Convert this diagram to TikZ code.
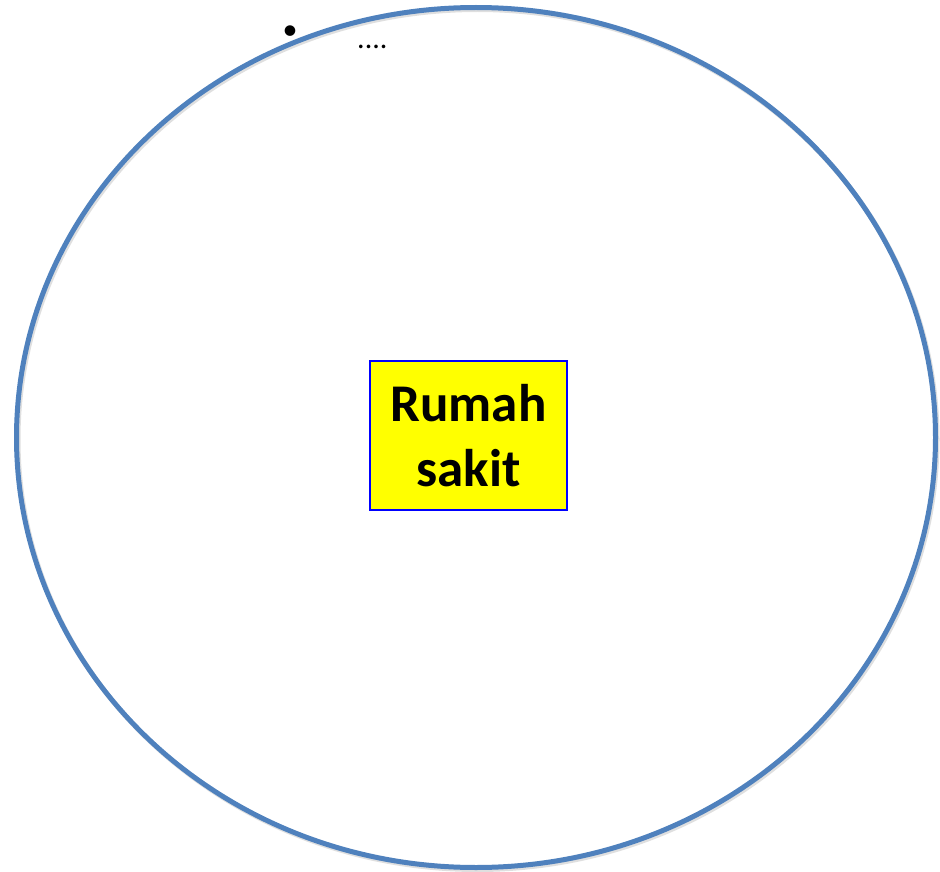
\documentclass[tikz,border=0pt]{standalone}
\usepackage{fontspec}
\setmainfont{Carlito}
\usepackage{tikz}
\usetikzlibrary{positioning,shapes.geometric}
\definecolor{ringblue}{RGB}{79,129,189}
\definecolor{boxblue}{RGB}{0,0,255}
\definecolor{boxyellow}{RGB}{255,255,0}
\tikzset{
  ring/.style={ellipse, draw=ringblue, line width=5pt, minimum width=919pt, minimum height=860pt, inner sep=0pt},
  ringshadow/.style={ellipse, draw=black!25, line width=5pt, minimum width=919pt, minimum height=860pt, inner sep=0pt, opacity=0.5},
  placebox/.style={draw=boxblue, line width=1.4pt, fill=boxyellow, minimum width=197pt, minimum height=149pt,
    align=center, inner sep=0pt, font=\fontsize{53}{65}\selectfont\bfseries},
  dotlabel/.style={inner sep=0pt, font=\fontsize{30}{30}\selectfont}
}
\begin{document}
\begin{tikzpicture}[x=1pt,y=-1pt]
\useasboundingbox (0,0) rectangle (940,872);
\node[ringshadow] (shadow) at (477.5,439.5) {};
\node[ring] (ring) at (476,437.5) {};
\node[placebox] (rs) at (468.5,435.5) {Rumah\\sakit};
\node[dotlabel] (bullet) at (290,33) {•};
\node[dotlabel, anchor=base west] (more) at (357,49) {....};
\end{tikzpicture}
\end{document}
